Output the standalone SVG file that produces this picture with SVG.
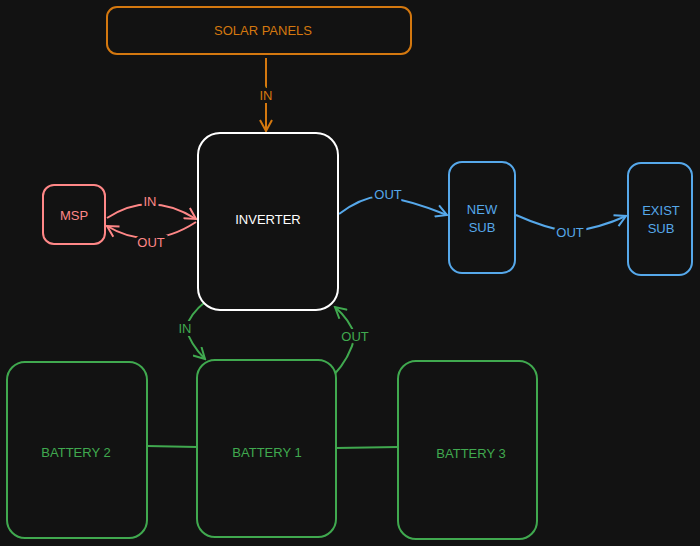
<svg xmlns="http://www.w3.org/2000/svg" width="700" height="546" viewBox="0 0 700 546">
<style>
text{font-family:"Liberation Sans",Arial,sans-serif;text-anchor:middle;dominant-baseline:central;font-size:13px}
.lbl{paint-order:stroke;stroke:#121212;stroke-width:6px}
.box{fill:#121212;stroke-width:2}
.o{stroke:#d4780f;fill:none;stroke-width:2}
.r{stroke:#ff8787;fill:none;stroke-width:2}
.b{stroke:#56a8ea;fill:none;stroke-width:2}
.g{stroke:#40a94f;fill:none;stroke-width:2}
</style>
<defs>
<marker id="ao" markerWidth="14" markerHeight="14" refX="12" refY="7" orient="auto" markerUnits="userSpaceOnUse"><path d="M1,1 L12,7 L1,13" fill="none" stroke="#d4780f" stroke-width="2"/></marker>
<marker id="ar" markerWidth="14" markerHeight="14" refX="12" refY="7" orient="auto" markerUnits="userSpaceOnUse"><path d="M1,1 L12,7 L1,13" fill="none" stroke="#ff8787" stroke-width="2"/></marker>
<marker id="ab" markerWidth="14" markerHeight="14" refX="12" refY="7" orient="auto" markerUnits="userSpaceOnUse"><path d="M1,1 L12,7 L1,13" fill="none" stroke="#56a8ea" stroke-width="2"/></marker>
<marker id="ag" markerWidth="14" markerHeight="14" refX="12" refY="7" orient="auto" markerUnits="userSpaceOnUse"><path d="M1,1 L12,7 L1,13" fill="none" stroke="#40a94f" stroke-width="2"/></marker>
</defs>
<rect width="700" height="546" fill="#121212"/>
<g id="connectors">
<path class="o" d="M266,58 L266,131" marker-end="url(#ao)"/>
<text class="lbl" x="266" y="95" fill="#d4780f">IN</text>
<path class="r" d="M107,218 Q150,190 196,219" marker-end="url(#ar)"/>
<text class="lbl" x="150" y="201" fill="#ff8787">IN</text>
<path class="r" d="M196,222 Q150,252 107,226" marker-end="url(#ar)"/>
<text class="lbl" x="151" y="242" fill="#ff8787">OUT</text>
<path class="b" d="M339,214 Q360,198 380,196 Q410,200 447,215" marker-end="url(#ab)"/>
<text class="lbl" x="388" y="194" fill="#56a8ea">OUT</text>
<path class="b" d="M516,215 Q545,228 570,232 Q600,228 626,216" marker-end="url(#ab)"/>
<text class="lbl" x="570" y="232" fill="#56a8ea">OUT</text>
<path class="g" d="M205,302 Q190,314 186,328 Q190,344 205,359" marker-end="url(#ag)"/>
<text class="lbl" x="185" y="328" fill="#40a94f">IN</text>
<path class="g" d="M333,376 Q350,358 355,336 Q350,320 335,307" marker-end="url(#ag)"/>
<text class="lbl" x="355" y="336" fill="#40a94f">OUT</text>
<path class="g" d="M147,446 L197,447"/>
<path class="g" d="M336,448 L398,447"/>
</g>
<g id="solar"><rect class="box" x="107" y="7" width="304" height="47" rx="10" stroke="#d4780f"/><text x="263" y="30" fill="#d4780f">SOLAR PANELS</text></g>
<g id="inverter"><rect class="box" x="198" y="133" width="140" height="177" rx="22" stroke="#ffffff"/><text x="268" y="219" fill="#ffffff">INVERTER</text></g>
<g id="msp"><rect class="box" x="43" y="185" width="62" height="59" rx="11" stroke="#ff8787"/><text x="74" y="215" fill="#ff8787">MSP</text></g>
<g id="newsub"><rect class="box" x="449" y="162" width="66" height="111" rx="13" stroke="#56a8ea"/><text x="482" y="209" fill="#56a8ea">NEW</text><text x="482" y="227" fill="#56a8ea">SUB</text></g>
<g id="existsub"><rect class="box" x="628" y="163" width="64" height="112" rx="13" stroke="#56a8ea"/><text x="661" y="210" fill="#56a8ea">EXIST</text><text x="661" y="228" fill="#56a8ea">SUB</text></g>
<g id="battery2"><rect class="box" x="7" y="362" width="140" height="176" rx="18" stroke="#40a94f"/><text x="76" y="452" fill="#40a94f">BATTERY 2</text></g>
<g id="battery1"><rect class="box" x="197" y="360" width="139" height="177" rx="18" stroke="#40a94f"/><text x="267" y="452" fill="#40a94f">BATTERY 1</text></g>
<g id="battery3"><rect class="box" x="398" y="361" width="139" height="178" rx="18" stroke="#40a94f"/><text x="471" y="453" fill="#40a94f">BATTERY 3</text></g>
</svg>
